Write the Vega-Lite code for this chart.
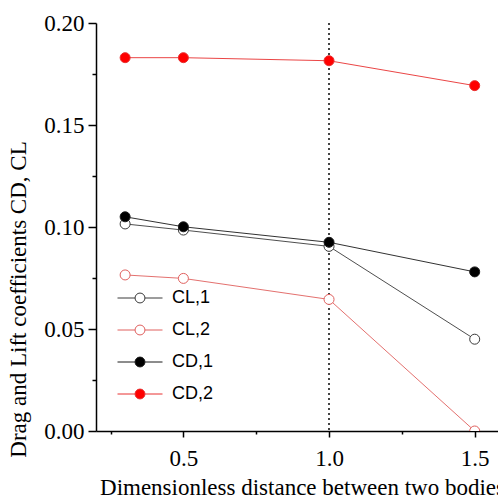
{
  "$schema": "https://vega.github.io/schema/vega-lite/v6.json",
  "width": 402,
  "height": 408,
  "autosize": {"type": "none"},
  "padding": {"left": 96, "top": 23, "right": 0, "bottom": 66},
  "background": "white",
  "config": {
    "view": {"stroke": null},
    "font": "Liberation Serif",
    "legend": {
      "title": null,
      "symbolType": "M-1,0H-0.22M0.22,0H1M0.22,0A0.22,0.22 0 1,1 -0.22,0A0.22,0.22 0 1,1 0.22,0Z",
      "symbolSize": 2025, "symbolStrokeWidth": 1,
      "labelFont": "Liberation Sans", "labelFontSize": 18, "labelColor": "black",
      "labelOffset": 9, "rowPadding": -12, "padding": 0, "offset": 0
    }
  },
  "data": {
    "values": [
      {"x": 0.3, "value": 0.1015, "series": "CL,1"},
      {"x": 0.5, "value": 0.0985, "series": "CL,1"},
      {"x": 1.0, "value": 0.0905, "series": "CL,1"},
      {"x": 1.5, "value": 0.045, "series": "CL,1"},
      {"x": 0.3, "value": 0.0765, "series": "CL,2"},
      {"x": 0.5, "value": 0.0748, "series": "CL,2"},
      {"x": 1.0, "value": 0.0645, "series": "CL,2"},
      {"x": 1.5, "value": 0.0, "series": "CL,2"},
      {"x": 0.3, "value": 0.105, "series": "CD,1"},
      {"x": 0.5, "value": 0.1001, "series": "CD,1"},
      {"x": 1.0, "value": 0.0925, "series": "CD,1"},
      {"x": 1.5, "value": 0.078, "series": "CD,1"},
      {"x": 0.3, "value": 0.183, "series": "CD,2"},
      {"x": 0.5, "value": 0.183, "series": "CD,2"},
      {"x": 1.0, "value": 0.1815, "series": "CD,2"},
      {"x": 1.5, "value": 0.1693, "series": "CD,2"}
    ]
  },
  "layer": [
    {
      "mark": {"type": "rule", "strokeDash": [2, 3], "color": "#444444", "strokeWidth": 0.7},
      "encoding": {"x": {"datum": 1}}
    },
    {
      "mark": {"type": "line", "strokeWidth": 0.9, "clip": true},
      "encoding": {
        "x": {
          "field": "x", "type": "quantitative",
          "scale": {"domain": [0.2, 1.58], "nice": false, "zero": false},
          "axis": {
            "title": "Dimensionless distance between two bodies",
            "values": [0.25, 0.5, 0.75, 1, 1.25, 1.5],
            "labelExpr": "abs(datum.value*2-round(datum.value*2))<0.001 ? format(datum.value,'.1f') : ''",
            "tickSize": {"condition": {"test": "abs(datum.value*2-round(datum.value*2))<0.001", "value": 6}, "value": 3},
            "grid": false,
            "domainColor": "black", "domainWidth": 1.5,
            "tickColor": "black", "tickWidth": 1.5,
            "labelFont": "Liberation Serif", "labelFontSize": 23, "labelColor": "black",
            "labelPadding": 10, "labelOverlap": false, "labelFlush": false,
            "titleFont": "Liberation Serif", "titleFontSize": 23, "titleFontWeight": "normal", "titleColor": "black",
            "titleX": 206, "titleY": 63, "titleBaseline": "alphabetic", "titleAlign": "center"
          }
        },
        "y": {
          "field": "value", "type": "quantitative",
          "scale": {"domain": [0, 0.2], "nice": false},
          "axis": {
            "title": "Drag and Lift coefficients CD, CL",
            "values": [0, 0.025, 0.05, 0.075, 0.1, 0.125, 0.15, 0.175, 0.2],
            "labelExpr": "abs(datum.value*20-round(datum.value*20))<0.001 ? format(datum.value,'.2f') : ''",
            "tickSize": {"condition": {"test": "abs(datum.value*20-round(datum.value*20))<0.001", "value": 8}, "value": 4},
            "grid": false,
            "domainColor": "black", "domainWidth": 1.5,
            "tickColor": "black", "tickWidth": 1.5,
            "labelFont": "Liberation Serif", "labelFontSize": 23, "labelColor": "black",
            "labelPadding": 4, "labelOverlap": false, "labelFlush": false,
            "titleFont": "Liberation Serif", "titleFontSize": 23, "titleFontWeight": "normal", "titleColor": "black",
            "titleX": -66, "titleY": 276, "titleBaseline": "bottom", "titleAlign": "center", "titleAngle": 270
          }
        },
        "stroke": {
          "field": "series", "type": "nominal",
          "scale": {"domain": ["CL,1", "CL,2", "CD,1", "CD,2"], "range": ["#3a3a3a", "#E0605E", "#1a1a1a", "#E83030"]},
          "legend": {"orient": "none", "legendX": 21, "legendY": 252}
        },
        "detail": {"field": "series"}
      }
    },
    {
      "mark": {"type": "point", "shape": "circle", "size": 100, "strokeWidth": 1, "opacity": 1, "clip": true},
      "encoding": {
        "x": {"field": "x", "type": "quantitative"},
        "y": {"field": "value", "type": "quantitative"},
        "stroke": {
          "field": "series", "type": "nominal",
          "legend": {"orient": "none", "legendX": 21, "legendY": 252}
        },
        "fill": {
          "field": "series", "type": "nominal",
          "scale": {"domain": ["CL,1", "CL,2", "CD,1", "CD,2"], "range": ["white", "white", "black", "#FF0000"]},
          "legend": {"orient": "none", "legendX": 21, "legendY": 252}
        }
      }
    }
  ]
}
